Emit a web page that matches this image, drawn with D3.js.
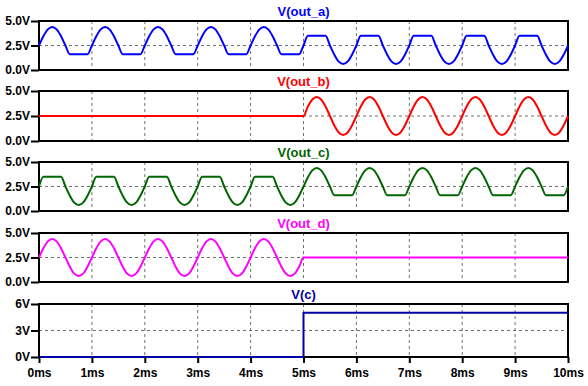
<!DOCTYPE html>
<html>
<head>
<meta charset="utf-8">
<script src="https://cdn.jsdelivr.net/npm/d3@7"></script>
<style>
  body { margin: 0; background: #fff; }
  svg { display: block; font-family: "Liberation Sans", Arial, sans-serif; }
</style>
</head>
<body>
<svg id="chart" width="588" height="386"></svg>
<script>
// Sample times inside one 1ms period (ms)
var cycleOffsets = [0, 0.083, 0.167, 0.25, 0.333, 0.417, 0.5, 0.583, 0.667, 0.75, 0.833, 0.917];

// One period of each waveform shape (V)
var sineCycle     = [2.5, 3.45, 4.15, 4.4, 4.15, 3.45, 2.5, 1.55, 0.85, 0.6, 0.85, 1.55];
var clipLowCycle  = [2.5, 3.45, 4.15, 4.4, 4.15, 3.45, 2.5, 1.6, 1.6, 1.6, 1.6, 1.6];
var clipHighCycle = [2.5, 3.5, 3.5, 3.5, 3.5, 3.5, 2.5, 1.55, 0.85, 0.6, 0.85, 1.55];
var flatCycle     = [2.5, 2.5, 2.5, 2.5, 2.5, 2.5, 2.5, 2.5, 2.5, 2.5, 2.5, 2.5];

// Which shape each trace shows in every millisecond (0-1ms ... 9-10ms)
var outA = ['low', 'low', 'low', 'low', 'low', 'high', 'high', 'high', 'high', 'high'];
var outB = ['flat', 'flat', 'flat', 'flat', 'flat', 'sine', 'sine', 'sine', 'sine', 'sine'];
var outC = ['high', 'high', 'high', 'high', 'high', 'low', 'low', 'low', 'low', 'low'];
var outD = ['sine', 'sine', 'sine', 'sine', 'sine', 'flat', 'flat', 'flat', 'flat', 'flat'];
var endValue = 2.5;

// V(c) step
var ctrlTimes = [0, 5, 10];
var ctrlValues = [0, 5, 5];

// Tick labels
var voltTicks = [0, 2.5, 5];
var ctrlTicks = [0, 3, 6];
var msTicks = [0, 1, 2, 3, 4, 5, 6, 7, 8, 9, 10];

var shapes = {sine: sineCycle, low: clipLowCycle, high: clipHighCycle, flat: flatCycle};

function buildTrace(plan) {
	var pts = [];
	plan.forEach(function(name, ms) {
		shapes[name].forEach(function(v, i) {
			pts.push([ms + cycleOffsets[i], v]);
		});
	});
	pts.push([plan.length, endValue]);
	return pts;
}

var panels = [
	{title: 'V(out_a)', color: '#0000ff', top: 21, bottom: 70, max: 5, ticks: voltTicks, data: buildTrace(outA)},
	{title: 'V(out_b)', color: '#ff0000', top: 91, bottom: 141, max: 5, ticks: voltTicks, data: buildTrace(outB)},
	{title: 'V(out_c)', color: '#006400', top: 162, bottom: 211, max: 5, ticks: voltTicks, data: buildTrace(outC)},
	{title: 'V(out_d)', color: '#ff00ff', top: 233, bottom: 282, max: 5, ticks: voltTicks, data: buildTrace(outD)},
	{title: 'V(c)', color: '#0000a8', top: 304, bottom: 357, max: 6, ticks: ctrlTicks,
		data: ctrlTimes.map(function(t, i) { return [t, ctrlValues[i]]; }), step: true}
];

var svg = d3.select('#chart');
var x = d3.scaleLinear().domain([0, 10]).range([39, 568]);

panels.forEach(function(p, idx) {
	var y = d3.scaleLinear().domain([0, p.max]).range([p.bottom, p.top]);
	var g = svg.append('g');

	// dashed grid
	g.selectAll('.vgrid')
		.data(msTicks.slice(1, -1))
		.enter().append('line')
		.attr('x1', function(d) { return x(d); })
		.attr('x2', function(d) { return x(d); })
		.attr('y1', p.top).attr('y2', p.bottom)
		.style('stroke', '#707070')
		.style('stroke-dasharray', '3,3');
	g.append('line')
		.attr('x1', x(0)).attr('x2', x(10))
		.attr('y1', y(p.ticks[1])).attr('y2', y(p.ticks[1]))
		.style('stroke', '#707070')
		.style('stroke-dasharray', '3,3');

	// frame
	g.append('rect')
		.attr('x', x(0)).attr('y', p.top)
		.attr('width', x(10) - x(0)).attr('height', p.bottom - p.top)
		.style('fill', 'none')
		.style('stroke', '#000')
		.style('stroke-width', 2);

	// trace (on top of the frame, like the 0V line of V(c))
	var line = d3.line()
		.x(function(d) { return x(d[0]); })
		.y(function(d) { return y(d[1]); })
		.curve(p.step ? d3.curveStepAfter : d3.curveMonotoneX);
	g.append('path')
		.datum(p.data)
		.attr('d', line)
		.style('fill', 'none')
		.style('stroke', p.color)
		.style('stroke-width', 2)
		.style('stroke-linejoin', 'round');

	// left axis
	var yAxis = g.append('g')
		.attr('transform', 'translate(' + x(0) + ',0)')
		.call(d3.axisLeft(y).tickValues(p.ticks).tickSize(8).tickPadding(1)
			.tickFormat(function(d) { return (p.max == 6 ? d3.format('d')(d) : d3.format('.1f')(d)) + 'V'; }));
	yAxis.select('.domain').remove();
	yAxis.selectAll('line').style('stroke', '#000').style('stroke-width', 2);
	yAxis.selectAll('text')
		.style('font-size', '12px')
		.style('font-weight', 'bold')
		.style('fill', '#000')
		.style('font-family', '"Liberation Sans", Arial, sans-serif');

	// title
	g.append('text')
		.attr('x', (x(0) + x(10)) / 2)
		.attr('y', p.top - 5)
		.attr('text-anchor', 'middle')
		.style('font-size', '13px')
		.style('font-weight', 'bold')
		.style('fill', p.color)
		.text(p.title);

	// time axis on the last panel
	if (idx == panels.length - 1) {
		var xAxis = g.append('g')
			.attr('transform', 'translate(0,' + p.bottom + ')')
			.call(d3.axisBottom(x).tickValues(msTicks).tickSize(6).tickPadding(5)
				.tickFormat(function(d) { return d + 'ms'; }));
		xAxis.select('.domain').remove();
		xAxis.selectAll('line').style('stroke', '#000').style('stroke-width', 2);
		xAxis.selectAll('text')
			.style('font-size', '12px')
			.style('font-weight', 'bold')
			.style('fill', '#000')
			.style('font-family', '"Liberation Sans", Arial, sans-serif');
	}
});
</script>
</body>
</html>
